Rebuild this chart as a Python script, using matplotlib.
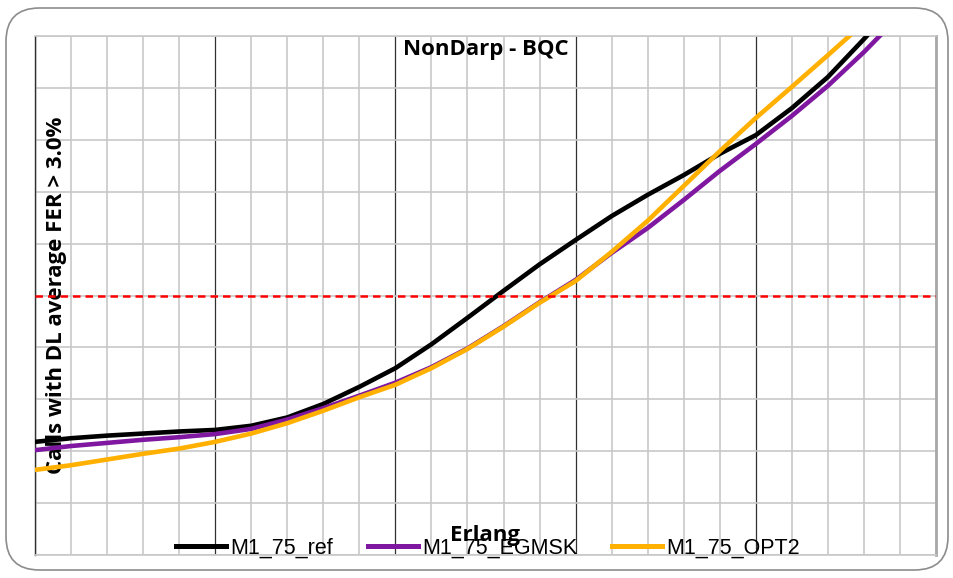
import numpy as np
import matplotlib.pyplot as plt
from matplotlib.patches import FancyBboxPatch

# Erlang axis (no tick labels shown on the chart)
erlang = list(range(25))

# series values (axis units: 0..10)
m1_75_ref = [2.18, 2.25, 2.30, 2.34, 2.38, 2.41, 2.49, 2.65, 2.91, 3.24,
             3.60, 4.06, 4.57, 5.09, 5.60, 6.07, 6.53, 6.94, 7.32, 7.73,
             8.09, 8.61, 9.21, 9.94, 10.70]
m1_75_egmsk = [2.02, 2.10, 2.16, 2.22, 2.27, 2.33, 2.43, 2.61, 2.83, 3.07,
               3.32, 3.62, 3.98, 4.41, 4.87, 5.30, 5.82, 6.30, 6.84, 7.40,
               7.92, 8.46, 9.04, 9.69, 10.40]
m1_75_opt2 = [1.64, 1.73, 1.84, 1.95, 2.05, 2.18, 2.34, 2.54, 2.78, 3.04,
              3.28, 3.60, 3.97, 4.40, 4.86, 5.28, 5.84, 6.44, 7.11, 7.78,
              8.42, 9.02, 9.63, 10.25, 10.90]
threshold = 5.0

series_names = ['M1_75_ref', 'M1_75_EGMSK', 'M1_75_OPT2']
series_colors = ['#000000', '#7F17A0', '#FFB000']

fig = plt.figure(figsize=(9.54, 5.78), dpi=100)
ax = fig.add_axes([35/954, 1-555/578, (936-35)/954, (555-36)/578])

# rounded chart border
border = FancyBboxPatch((6/954, 8/578), 942/954, 562/578,
                       boxstyle='round,pad=0,rounding_size=0.035',
                       transform=fig.transFigure, facecolor='none',
                       edgecolor='#8c8c8c', linewidth=1.2, mutation_aspect=954/578)
fig.patches.append(border)

ax.set_xlim(0, 25)
ax.set_ylim(0, 10)
ax.set_xticks(range(0, 26, 5))
ax.set_xticks(range(26), minor=True)
ax.set_yticks(range(11))
ax.tick_params(which='both', length=0, labelbottom=False, labelleft=False)
ax.grid(which='minor', color='#c8c8c8', linewidth=1.2)
ax.grid(which='major', axis='y', color='#c8c8c8', linewidth=1.2)
ax.grid(which='major', axis='x', color='#303030', linewidth=0.9)
ax.set_axisbelow(True)

ax.spines['left'].set_color('#303030')
ax.spines['left'].set_linewidth(1.0)
ax.spines['right'].set_color('#a8a8a8')
ax.spines['right'].set_linewidth(2.0)
ax.spines['top'].set_color('#c8c8c8')
ax.spines['bottom'].set_color('#c8c8c8')
ax.spines['top'].set_linewidth(1.2)
ax.spines['bottom'].set_linewidth(1.2)

for vals, name, col in zip([m1_75_ref, m1_75_egmsk, m1_75_opt2], series_names, series_colors):
    ax.plot(erlang, vals, color=col, lw=3.3, label=name, zorder=4,
            solid_joinstyle='round')

ax.axhline(threshold, color='#FF0000', lw=1.8, ls=(0, (3, 2)), zorder=5)

ax.text(0.5, 0.995, 'NonDarp - BQC', transform=ax.transAxes, ha='center', va='top',
        fontsize=16, fontweight='bold', family='Open Sans', zorder=6)
ax.text(22/901, 0.5, 'Calls with DL average FER > 3.0%', transform=ax.transAxes,
        rotation=90, ha='center', va='center', fontsize=16, fontweight='bold',
        family='Open Sans', zorder=2)
fig.text(485/954, 1-536/578, 'Erlang', ha='center', va='center', fontsize=16,
         fontweight='bold', family='Open Sans', zorder=6)

leg = fig.legend(loc='center', bbox_to_anchor=(488/954, 1-548/578), ncol=3,
                 frameon=False, prop={'family': 'Liberation Sans', 'size': 15.5},
                 handlelength=2.33, handletextpad=0.2, columnspacing=1.6,
                 borderpad=0, borderaxespad=0)
for h in leg.legend_handles:
    h.set_linewidth(3.6)

fig.savefig('out.png', dpi=100)
